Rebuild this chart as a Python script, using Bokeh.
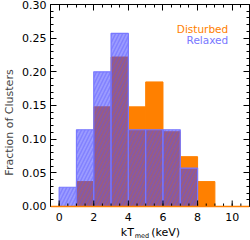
import math
from bokeh.plotting import figure
from bokeh.models import Range1d, LinearAxis, FixedTicker, Label, Span
from bokeh.core.properties import value
from bokeh.embed import file_html
from bokeh.resources import INLINE

# ---- data (fraction of clusters per 1 keV bin) ----
bin_left = [0, 1, 2, 3, 4, 5, 6, 7, 8]
bin_right = [1, 2, 3, 4, 5, 6, 7, 8, 9]
disturbed = [0.0, 0.037, 0.148, 0.222, 0.148, 0.185, 0.111, 0.074, 0.037]
relaxed = [0.0286, 0.114, 0.200, 0.257, 0.114, 0.114, 0.114, 0.057, 0.0]
x_ticks = [0, 2, 4, 6, 8, 10]
x_tick_labels = ["0", "2", "4", "6", "8", "10"]
y_ticks = [0.0, 0.05, 0.10, 0.15, 0.20, 0.25, 0.30]
y_tick_labels = ["0.00", "0.05", "0.10", "0.15", "0.20", "0.25", "0.30"]
x_minor = [i * 0.5 for i in range(-1, 23)]
y_minor = [i * 0.01 for i in range(0, 31)]

ORANGE = "#FF8000"
BLUE = "#3838FF"
LBLUE = "#7878FF"
FONT = "DejaVu Sans"

p = figure(width=250, height=240, output_backend="svg", toolbar_location=None,
           x_range=Range1d(-0.5, 11), y_range=Range1d(-0.0505, 0.30),
           min_border_left=47, min_border_right=1, min_border_top=4, min_border_bottom=0)
p.grid.visible = False
p.background_fill_color = "white"
p.border_fill_color = "white"
p.outline_line_color = None

p.quad(left=bin_left, right=bin_right, bottom=0, top=disturbed,
       fill_color=ORANGE, line_color=ORANGE, line_width=1)
p.quad(left=bin_left, right=bin_right, bottom=0, top=relaxed,
       fill_color=BLUE, fill_alpha=0.5, line_color=LBLUE, line_width=1.2,
       hatch_pattern="/", hatch_color="#5050FF", hatch_alpha=0.35, hatch_scale=7, hatch_weight=1.5)

def style(ax, ticks, minor, show):
    ax.ticker = FixedTicker(ticks=ticks, minor_ticks=minor)
    ax.major_tick_in = 6
    ax.major_tick_out = 0
    ax.minor_tick_in = 3
    ax.minor_tick_out = 0
    ax.axis_line_color = "black"
    ax.major_tick_line_color = "black"
    ax.minor_tick_line_color = "black"
    ax.major_label_text_font = FONT
    if show:
        ax.major_label_text_font_size = "11px"
        ax.major_label_text_color = "black"
    else:
        ax.major_label_text_font_size = "0px"
        ax.major_label_text_color = None
        ax.major_label_standoff = 0

# bottom axis drawn at y = 0 (so that the x title can sit inside the frame)
p.xaxis.visible = False
p.add_layout(Span(location=0, dimension="width", line_color="black", line_width=1))
p.ray(x=x_ticks, y=0, length=6, length_units="screen", angle=math.pi / 2,
      line_color="black", line_width=1)
p.ray(x=x_minor, y=0, length=3, length_units="screen", angle=math.pi / 2,
      line_color="black", line_width=1)
p.text(x=x_ticks, y=0, text=x_tick_labels, y_offset=7, text_align="center",
       text_baseline="top", text_font=value(FONT), text_font_size="11px", text_color="black")

ya = p.yaxis[0]
style(ya, y_ticks, y_minor, True)
ya.bounds = (y_ticks[0], y_ticks[-1])
ya.major_label_standoff = 4
ya.major_label_overrides = {t: l for t, l in zip(y_ticks, y_tick_labels)}
ya.axis_label = "Fraction of Clusters"
ya.axis_label_text_font = FONT
ya.axis_label_text_font_size = "11px"
ya.axis_label_text_font_style = "normal"
ya.axis_label_standoff = 3

top = LinearAxis()
style(top, x_ticks, x_minor, False)
p.add_layout(top, "above")
right = LinearAxis()
style(right, y_ticks, y_minor, False)
right.bounds = (y_ticks[0], y_ticks[-1])
p.add_layout(right, "right")

p.add_layout(Span(location=0, dimension="width", line_color=ORANGE, line_width=1.5))

# legend texts
p.add_layout(Label(x=9.77, y=0.264, text="Disturbed", text_align="right", text_baseline="alphabetic",
                   text_font=FONT, text_font_size="10.5px", text_color=ORANGE))
p.add_layout(Label(x=9.77, y=0.2475, text="Relaxed", text_align="right", text_baseline="alphabetic",
                   text_font=FONT, text_font_size="10.5px", text_color=LBLUE))

# x axis title with subscript
p.text(x=[3.56], y=[0], text=["kT"], y_offset=26.5, text_align="left", text_baseline="alphabetic",
       text_font=value(FONT), text_font_size="11px", text_color="black")
p.text(x=[4.37], y=[0], text=["med"], y_offset=30, text_align="left", text_baseline="alphabetic",
       text_font=value(FONT), text_font_size="6.5px", text_color="black")
p.text(x=[5.32], y=[0], text=["(keV)"], y_offset=26.5, text_align="left", text_baseline="alphabetic",
       text_font=value(FONT), text_font_size="11px", text_color="black")

open("out.html", "w").write(file_html(p, INLINE))
